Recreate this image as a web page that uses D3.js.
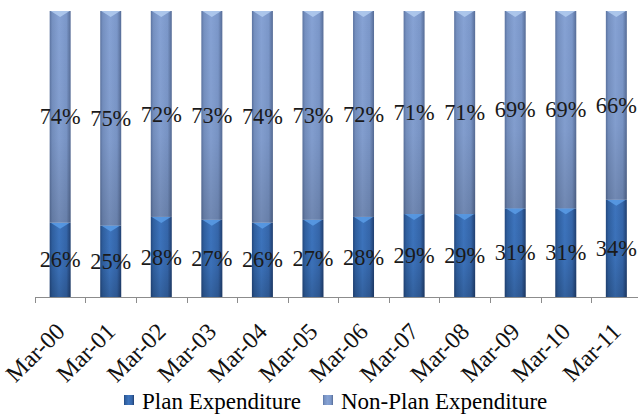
<!DOCTYPE html>
<html><head><meta charset="utf-8">
<script src="https://cdn.jsdelivr.net/npm/d3@7"></script>
<style>body{margin:0;background:#fff}svg{display:block}</style>
</head><body>
<svg id="c" width="638" height="414"></svg>
<script>
const categories = ["Mar-00","Mar-01","Mar-02","Mar-03","Mar-04","Mar-05","Mar-06","Mar-07","Mar-08","Mar-09","Mar-10","Mar-11"];
const planValues = [26,25,28,27,26,27,28,29,29,31,31,34];
const nonPlanValues = [74,75,72,73,74,73,72,71,71,69,69,66];
const seriesNames = ["Plan Expenditure","Non-Plan Expenditure"];

const FONT = "Liberation Serif";
const svg = d3.select("#c");
const W = 638, H = 414;
const m = {left:35, right:-3.5, top:11, bottom:117};
const x = d3.scaleBand().domain(categories).range([m.left, W - m.right]).paddingInner(0.585).paddingOuter(0.29);
const y = d3.scaleLinear().domain([0,100]).range([H - m.bottom, m.top]);

const defs = svg.append("defs");
function hgrad(id, stops){
  const g = defs.append("linearGradient").attr("id",id).attr("x1","0").attr("x2","1").attr("y1","0").attr("y2","0");
  stops.forEach(s=>g.append("stop").attr("offset",s[0]).attr("stop-color",s[1]));
}
hgrad("gPlan",[[0,"#23487f"],[0.12,"#2f5f9f"],[0.45,"#3d74bd"],[0.8,"#3566aa"],[1,"#203f70"]]);
hgrad("gNon",[[0,"#5b73a0"],[0.12,"#7590c0"],[0.45,"#86a2d4"],[0.8,"#7b97c9"],[1,"#566c96"]]);
const vs = defs.append("linearGradient").attr("id","vShade").attr("x1","0").attr("x2","0").attr("y1","0").attr("y2","1");
vs.append("stop").attr("offset",0).attr("stop-color","#000").attr("stop-opacity",0);
vs.append("stop").attr("offset",0.6).attr("stop-color","#000").attr("stop-opacity",0.03);
vs.append("stop").attr("offset",1).attr("stop-color","#000").attr("stop-opacity",0.16);

const stack = categories.map((c,i)=>({cat:c, plan:planValues[i], non:nonPlanValues[i]}));
const bw = x.bandwidth();

const g = svg.append("g");
stack.forEach(d=>{
  const x0 = x(d.cat);
  const segs = [
    {y0:0, y1:d.plan, fill:"url(#gPlan)", cap:"#5b9ce6"},
    {y0:d.plan, y1:d.plan + d.non, fill:"url(#gNon)", cap:"#b3cdf0"}
  ];
  segs.forEach(s=>{
    const top = y(s.y1), bot = y(s.y0);
    g.append("rect").attr("x",x0).attr("y",top).attr("width",bw).attr("height",bot-top).attr("fill",s.fill);
    g.append("rect").attr("x",x0).attr("y",top).attr("width",bw).attr("height",bot-top).attr("fill","url(#vShade)");
    g.append("path")
      .attr("d",`M${x0+1},${top} L${x0+bw-1},${top} L${x0+bw*0.5},${top+6} Z`)
      .attr("fill",s.cap).attr("opacity",0.85);
  });
});

const axisY = y(0);
const ax = svg.append("g").attr("transform",`translate(0,${axisY})`);
const tickXs = categories.map(c=>x(c) - x.step()*x.paddingInner()/2).concat([x(categories[categories.length-1]) + bw + x.step()*x.paddingInner()/2]);
ax.append("line").attr("x1",m.left).attr("x2",W).attr("y1",0.5).attr("y2",0.5).attr("stroke","#8c8c8c");
tickXs.forEach(t=>ax.append("line").attr("x1",Math.round(t)+0.5).attr("x2",Math.round(t)+0.5).attr("y1",0).attr("y2",6).attr("stroke","#8c8c8c"));

svg.append("g").selectAll("text").data(categories).join("text")
  .attr("transform",d=>`translate(${x(d)+bw/2+6},${axisY+36}) rotate(-45)`)
  .attr("text-anchor","end")
  .style("font-family",FONT).attr("font-size",24)
  .attr("fill","#111").text(d=>d);

const lab = svg.append("g").attr("fill","#1a1a1a").attr("text-anchor","middle");
stack.forEach(d=>{
  const cx = x(d.cat)+bw/2;
  [[ (y(0)+y(d.plan))/2, d.plan ], [ (y(d.plan)+y(d.plan+d.non))/2, d.non ]].forEach(p=>{
    lab.append("text").attr("x",cx).attr("y",p[0]).attr("dy","0.33em")
      .style("font-family",FONT).attr("font-size",23)
      .attr("textLength",41).attr("lengthAdjust","spacingAndGlyphs").text(p[1]+"%");
  });
});

const leg = svg.append("g").attr("fill","#000");
const legItems = [{name:seriesNames[0], fill:"url(#gPlan)", x:124},{name:seriesNames[1], fill:"url(#gNon)", x:323}];
legItems.forEach(li=>{
  leg.append("rect").attr("x",li.x).attr("y",395).attr("width",10).attr("height",10).attr("fill",li.fill);
  leg.append("text").attr("x",li.x+18).attr("y",409).style("font-family",FONT).attr("font-size",23).text(li.name);
});
</script>
</body></html>
